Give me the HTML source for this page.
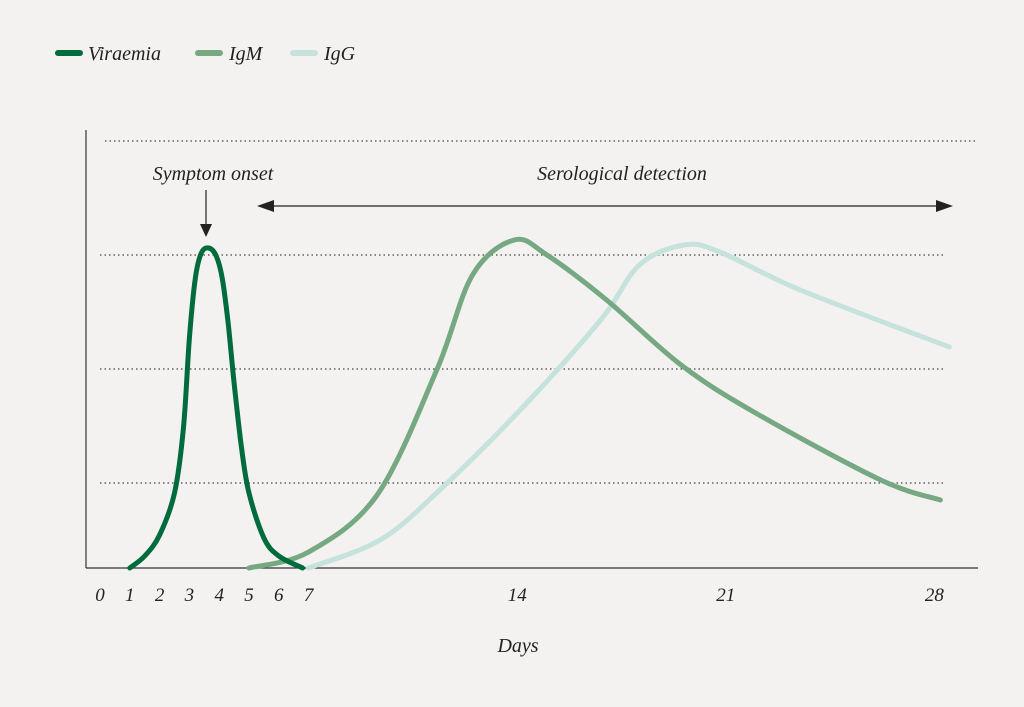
<!DOCTYPE html>
<html><head><meta charset="utf-8"><style>
body{margin:0;background:#f4f2f0;}
svg text{font-family:"Liberation Serif",serif;font-style:italic;fill:#222;}
</style></head><body>
<svg width="1024" height="702" viewBox="0 0 1024 702">
<rect width="1024" height="702" fill="#f4f2f0"/>
<g>
<line x1="58" y1="53" x2="80" y2="53" stroke="#006b3c" stroke-width="6" stroke-linecap="round"/>
<text x="88" y="60" font-size="20">Viraemia</text>
<line x1="198" y1="53" x2="220" y2="53" stroke="#76a882" stroke-width="6" stroke-linecap="round"/>
<text x="229" y="60" font-size="20">IgM</text>
<line x1="293" y1="53" x2="315" y2="53" stroke="#c5e2dc" stroke-width="6" stroke-linecap="round"/>
<text x="324" y="60" font-size="20">IgG</text>
</g>
<g id="grid"></g>
<line x1="86" y1="130" x2="86" y2="568" stroke="#333" stroke-width="1.2"/>
<line x1="86" y1="568" x2="978" y2="568" stroke="#333" stroke-width="1.2"/>
<g id="ticks"></g>
<text x="518" y="652" font-size="20" text-anchor="middle">Days</text>
<text x="213" y="180" font-size="20" text-anchor="middle">Symptom onset</text>
<line x1="206" y1="190" x2="206" y2="226" stroke="#222" stroke-width="1.2"/>
<polygon points="200,224 212,224 206,237" fill="#222"/>
<text x="622" y="180" font-size="20" text-anchor="middle">Serological detection</text>
<g>
<line x1="270" y1="206" x2="940" y2="206" stroke="#222" stroke-width="1.2"/>
<polygon points="257,206 274,200 274,212" fill="#222"/>
<polygon points="953,206 936,200 936,212" fill="#222"/>
</g>
<g id="series"></g>
</svg>
<script>
const tickDays=[0,1,2,3,4,5,6,7,14,21,28];
const gridLevels=[427,313,199,85];
const viraemiaDays=[1,1.5,2,2.5,2.8,3.0,3.2,3.4,3.65,3.9,4.1,4.3,4.5,4.75,5.0,5.5,6.0,6.8];
const viraemiaVals=[0,12,33,75,140,230,290,315,320,312,290,245,185,120,75,30,12,0];
const igmDays=[5,7,9.3,11.3,12.5,13.9,15,17,19.5,22,26.2,28.2];
const igmVals=[0,16,73,198,293,328,313,268,203,155,88,68];
const iggDays=[7,9.4,11.4,14.1,16.8,18.1,19.6,20.8,23.5,28.5];
const iggVals=[0,28,78,158,248,303,323,316,278,221];
const X=d=>100+29.8*d, Y=v=>568-v;
const ns="http://www.w3.org/2000/svg";
const grid=document.getElementById('grid');
gridLevels.forEach((g,i)=>{const l=document.createElementNS(ns,'line');
l.setAttribute('x1',i==0?105:100);l.setAttribute('x2',i==0?978:945);
l.setAttribute('y1',Y(g));l.setAttribute('y2',Y(g));
l.setAttribute('stroke','#444');l.setAttribute('stroke-width','1.2');l.setAttribute('stroke-dasharray','1.5 3');


grid.appendChild(l);});
const ticks=document.getElementById('ticks');
tickDays.forEach(d=>{const t=document.createElementNS(ns,'text');
t.setAttribute('x',X(d));t.setAttribute('y',601);t.setAttribute('font-size','19');t.setAttribute('text-anchor','middle');
t.textContent=d;


ticks.appendChild(t);});
function path(ds,vs){const p=ds.map((d,i)=>[X(d),Y(vs[i])]);let s='M'+p[0];
for(let i=0;i<p.length-1;i++){const a=p[i-1]||p[i],b=p[i],c=p[i+1],e=p[i+2]||c;
s+=' C'+(b[0]+(c[0]-a[0])/6)+','+(b[1]+(c[1]-a[1])/6)+' '+(c[0]-(e[0]-b[0])/6)+','+(c[1]-(e[1]-b[1])/6)+' '+c;}return s;}
const ser=document.getElementById('series');
[[iggDays,iggVals,'#c5e2dc','igg-curve'],[igmDays,igmVals,'#76a882','igm-curve'],[viraemiaDays,viraemiaVals,'#006b3c','viraemia-curve']].forEach(s=>{
const p=document.createElementNS(ns,'path');p.setAttribute('d',path(s[0],s[1]));
p.setAttribute('fill','none');p.setAttribute('stroke',s[2]);p.setAttribute('stroke-width','5');p.setAttribute('stroke-linecap','round');


ser.appendChild(p);});
</script>
</body></html>
